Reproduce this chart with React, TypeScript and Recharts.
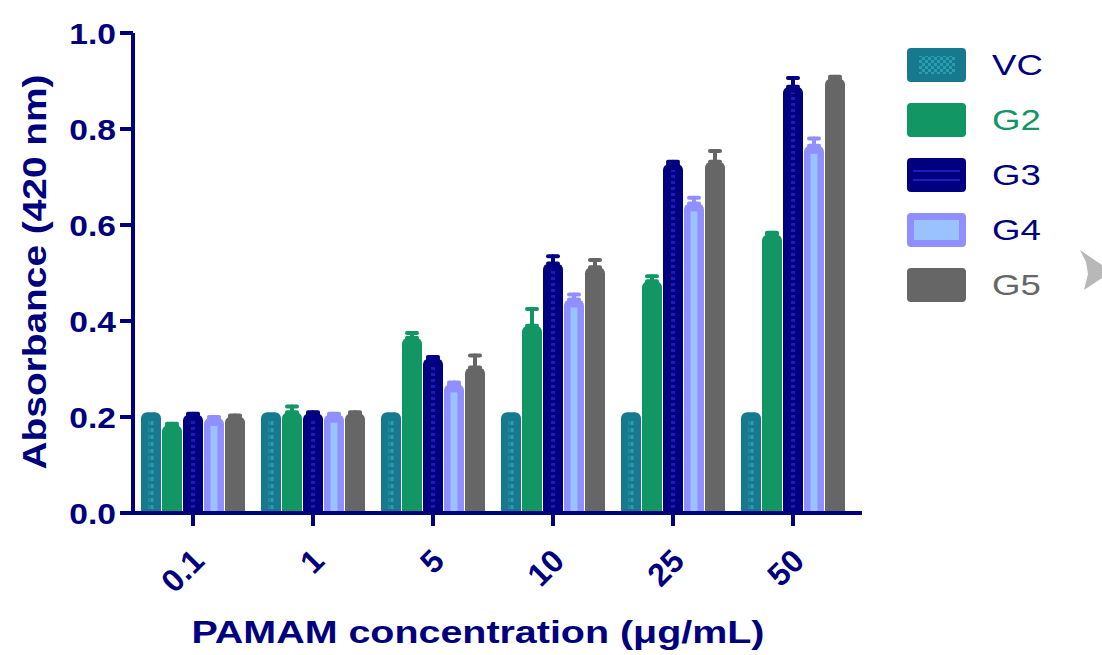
import React from "react";
import { BarChart, Bar, XAxis, YAxis, ErrorBar } from "recharts";

const CONCENTRATIONS = ["0.1", "1", "5", "10", "25", "50"];
const VC = [0.21, 0.21, 0.21, 0.21, 0.21, 0.21];
const G2 = [0.183, 0.21, 0.365, 0.39, 0.483, 0.58];
const G2_ERR = [0.003, 0.012, 0.01, 0.035, 0.01, 0.004];
const G3 = [0.205, 0.208, 0.322, 0.52, 0.727, 0.888];
const G3_ERR = [0.002, 0.002, 0.003, 0.015, 0.005, 0.018];
const G4 = [0.198, 0.205, 0.268, 0.445, 0.645, 0.765];
const G4_ERR = [0.002, 0.002, 0.004, 0.01, 0.012, 0.015];
const G5 = [0.201, 0.208, 0.303, 0.512, 0.732, 0.905];
const G5_ERR = [0.002, 0.002, 0.025, 0.015, 0.022, 0.004];
const Y_TICKS = [0, 0.2, 0.4, 0.6, 0.8, 1.0];

const NAVY = "#00007f";
const FONT = "'Liberation Sans', Arial, Helvetica, sans-serif";

type Kind = "vc" | "g2" | "g3" | "g4" | "g5";

const SERIES: { key: string; kind: Kind; color: string; text: string; values: number[]; errors: number[] | null }[] = [
  { key: "VC", kind: "vc", color: "#16798e", text: NAVY, values: VC, errors: null },
  { key: "G2", kind: "g2", color: "#119664", text: "#119664", values: G2, errors: G2_ERR },
  { key: "G3", kind: "g3", color: "#000080", text: NAVY, values: G3, errors: G3_ERR },
  { key: "G4", kind: "g4", color: "#8f8fff", text: NAVY, values: G4, errors: G4_ERR },
  { key: "G5", kind: "g5", color: "#666666", text: "#666666", values: G5, errors: G5_ERR },
];

const data = CONCENTRATIONS.map((c, i) => {
  const row: Record<string, unknown> = { conc: c };
  SERIES.forEach((s) => {
    row[s.key] = s.values[i];
    if (s.errors) row[s.key + "Err"] = [0, s.errors[i]];
  });
  return row;
});

function roundedTop(x: number, y: number, w: number, h: number, r: number) {
  return `M${x},${y + h} L${x},${y + r} A${r},${r} 0 0 1 ${x + r},${y} L${x + w - r},${y} A${r},${r} 0 0 1 ${x + w},${y + r} L${x + w},${y + h} Z`;
}

function BarShape(props: any) {
  const { x, y, width: w, height: h, fill, kind } = props;
  if (!h || h <= 0) return null;
  const r = Math.min(6, w / 2, h);
  const cx = x + w / 2;
  return (
    <g>
      <path d={roundedTop(x, y, w, h, r)} fill={fill} />
      {kind === "vc" && h > 8 && (
        <rect x={cx - 2.5} y={y + 6} width={5} height={h - 6} fill="url(#vcDots)" />
      )}
      {kind === "g3" && h > 8 && (
        <rect x={cx - 2} y={y + 6} width={4} height={h - 6} fill="url(#g3Dash)" />
      )}
      {kind === "g4" && h > 10 && (
        <rect x={cx - 3.5} y={y + 8} width={7} height={h - 8} fill="#9ac2ff" />
      )}
    </g>
  );
}

function XTick(props: any) {
  const { x, y, payload } = props;
  const ax = x + 13;
  const ay = y + 35;
  return (
    <text
      x={ax}
      y={ay}
      transform={`rotate(-45 ${ax} ${ay})`}
      textAnchor="end"
      fill={NAVY}
      fontSize={32}
      fontWeight="bold"
      fontFamily={FONT}
    >
      {payload.value}
    </text>
  );
}

function YTick(props: any) {
  const { x, y, payload } = props;
  return (
    <g transform={`translate(${x} ${y}) scale(1.12 1)`}>
      <text
        x={0}
        y={0}
        dy="0.36em"
        textAnchor="end"
        fill={NAVY}
        fontSize={30}
        fontWeight="bold"
        fontFamily={FONT}
      >
        {Number(payload.value).toFixed(1)}
      </text>
    </g>
  );
}

const yLabel = () => (
  <text
    x={46}
    y={272}
    transform="rotate(-90 46 272)"
    textAnchor="middle"
    fill={NAVY}
    fontSize={34}
    fontWeight="bold"
    fontFamily={FONT}
    textLength={395}
    lengthAdjust="spacingAndGlyphs"
  >
    Absorbance (420 nm)
  </text>
);

const xLabel = () => (
  <text
    x={478}
    y={643}
    textAnchor="middle"
    fill={NAVY}
    fontSize={31}
    fontWeight="bold"
    fontFamily={FONT}
    textLength={573}
    lengthAdjust="spacingAndGlyphs"
  >
    PAMAM concentration (μg/mL)
  </text>
);

function Swatch({ kind, color }: { kind: Kind; color: string }) {
  return (
    <svg width={59} height={34} style={{ display: "block" }}>
      <defs>
        <pattern id="lgDots" width={6} height={6} patternUnits="userSpaceOnUse">
          <rect x={0} y={0} width={3} height={3} fill="#2b9db3" />
          <rect x={3} y={3} width={3} height={3} fill="#2b9db3" />
        </pattern>
      </defs>
      <rect x={0} y={0} width={59} height={34} rx={4} fill={color} />
      {kind === "vc" && <rect x={12} y={8} width={36} height={18} fill="url(#lgDots)" />}
      {kind === "g3" && (
        <>
          <rect x={6} y={12} width={47} height={2} fill="#1c1cc0" />
          <rect x={6} y={21} width={47} height={2} fill="#1c1cc0" />
        </>
      )}
      {kind === "g4" && <rect x={7} y={7} width={45} height={20} fill="#9ac2ff" />}
    </svg>
  );
}

function LegendBox() {
  return (
    <div style={{ position: "absolute", left: 907, top: 48 }}>
      {SERIES.map((s, i) => (
        <div
          key={s.key}
          style={{ position: "absolute", left: 0, top: i * 55, display: "flex", alignItems: "center", height: 34 }}
        >
          <Swatch kind={s.kind} color={s.color} />
          <span
            style={{
              position: "absolute",
              left: 85,
              top: 0,
              lineHeight: "34px",
              fontFamily: FONT,
              fontSize: 30,
              color: s.text,
              display: "inline-block",
              transform: "scaleX(1.22)",
              transformOrigin: "left center",
              whiteSpace: "nowrap",
            }}
          >
            {s.key}
          </span>
        </div>
      ))}
    </div>
  );
}

export default function App() {
  return (
    <div style={{ position: "absolute", left: 0, top: 0, width: 1102, height: 655, background: "#fff" }}>
      <BarChart
        width={1102}
        height={655}
        data={data}
        margin={{ top: 33, right: 240, bottom: 0, left: 0 }}
        barSize={20}
        barGap={1}
      >
        <defs>
          <pattern id="vcDots" width={5} height={7} patternUnits="userSpaceOnUse">
            <rect x={0.5} y={1} width={4} height={4} rx={1} fill="#2d9cb2" />
          </pattern>
          <pattern id="g3Dash" width={4} height={6} patternUnits="userSpaceOnUse">
            <rect x={0} y={1} width={4} height={3} fill="#1c1cb4" />
          </pattern>
        </defs>
        <XAxis
          dataKey="conc"
          height={142}
          padding={{ left: 0, right: 9 }}
          axisLine={{ stroke: NAVY, strokeWidth: 4 }}
          tickLine={{ stroke: NAVY, strokeWidth: 4 }}
          tickSize={13}
          tick={<XTick />}
          interval={0}
          label={{ content: xLabel }}
        />
        <YAxis
          width={133}
          domain={[0, 1]}
          ticks={Y_TICKS}
          interval={0}
          axisLine={{ stroke: NAVY, strokeWidth: 4 }}
          tickLine={{ stroke: NAVY, strokeWidth: 4 }}
          tickSize={13}
          tickMargin={4}
          tick={<YTick />}
          label={{ content: yLabel }}
        />
        {SERIES.map((s) => (
          <Bar
            key={s.key}
            dataKey={s.key}
            fill={s.color}
            isAnimationActive={false}
            shape={(p: any) => <BarShape {...p} kind={s.kind} />}
          >
            {s.errors && (
              <ErrorBar
                dataKey={s.key + "Err"}
                direction="y"
                width={5}
                stroke={s.color}
                strokeWidth={4}
                strokeLinecap="round"
              />
            )}
          </Bar>
        ))}
      </BarChart>
      <LegendBox />
      <svg width={22} height={48} style={{ position: "absolute", left: 1080, top: 248 }}>
        <polygon points="0,2 22,17 22,30 4,42 8,26 6,14" fill="#b8b8b8" />
      </svg>
    </div>
  );
}
